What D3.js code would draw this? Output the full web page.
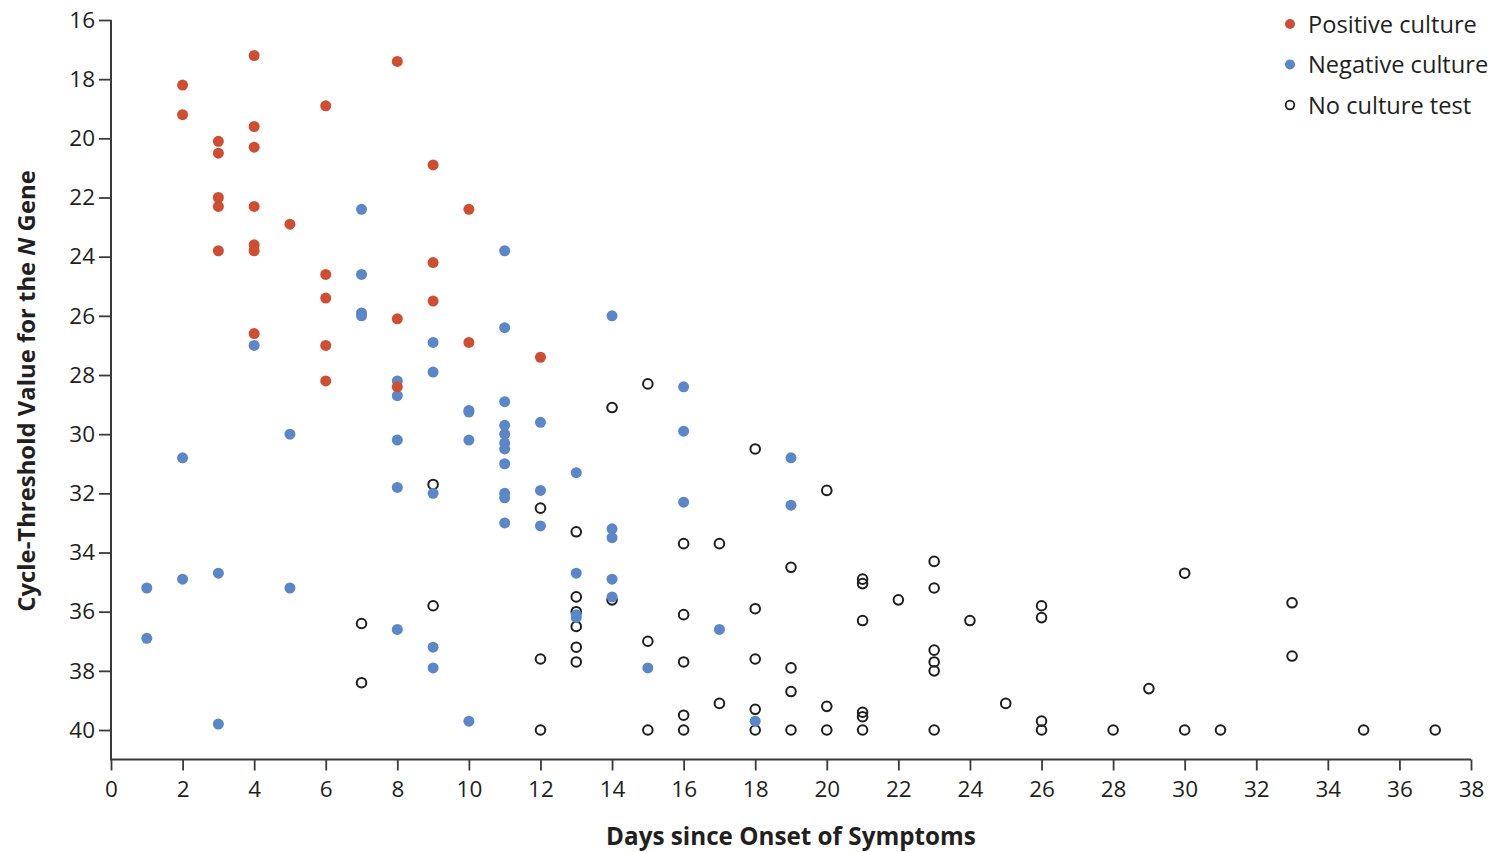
<!DOCTYPE html>
<html>
<head>
<meta charset="utf-8">
<script src="https://cdn.jsdelivr.net/npm/d3@7/dist/d3.min.js"></script>
<style>
  html, body { margin: 0; padding: 0; background: #fff; }
  svg { display: block; }
  text { font-family: "Open Sans", Lato, sans-serif; fill: #231f20; }
</style>
</head>
<body>
<svg id="chart" width="1501" height="852"></svg>
<script>
// ---- Data ----
const seriesNames = ["Positive culture", "Negative culture", "No culture test"];

const positiveDays = [2, 2, 3, 3, 3, 3, 3, 4, 4, 4, 4, 4, 4, 4, 5, 6, 6, 6, 6, 6, 8, 8, 8, 9, 9, 9, 10, 10, 12];
const positiveCt   = [18.2, 19.2, 20.1, 20.5, 22.0, 22.3, 23.8, 17.2, 19.6, 20.3, 22.3, 23.6, 23.8, 26.6, 22.9, 18.9, 24.6, 25.4, 27.0, 28.2, 17.4, 26.1, 28.4, 20.9, 24.2, 25.5, 22.4, 26.9, 27.4];

const negativeDays = [1, 1, 2, 2, 3, 3, 4, 5, 5, 7, 7, 7, 7,
  8, 8, 8, 8, 8, 9, 9, 9, 9, 9, 10, 10, 10, 10,
  11, 11, 11, 11, 11, 11, 11, 11, 11, 11, 11,
  12, 12, 12, 13, 13, 13, 13, 14, 14, 14, 14, 14,
  15, 16, 16, 16, 17, 18, 19, 19];
const negativeCt   = [35.2, 36.9, 30.8, 34.9, 34.7, 39.8, 27.0, 30.0, 35.2, 22.4, 24.6, 25.9, 26.0,
  28.2, 28.7, 30.2, 31.8, 36.6, 26.9, 27.9, 32.0, 37.2, 37.9, 29.2, 29.25, 30.2, 39.7,
  23.8, 26.4, 28.9, 29.7, 30.0, 30.3, 30.5, 31.0, 32.0, 32.15, 33.0,
  29.6, 31.9, 33.1, 31.3, 34.7, 36.1, 36.2, 26.0, 33.2, 33.5, 34.9, 35.5,
  37.9, 28.4, 29.9, 32.3, 36.6, 39.7, 30.8, 32.4];

const noTestDays = [7, 7, 9, 9, 12, 12, 12, 13, 13, 13, 13, 13, 13,
  14, 14, 15, 15, 15, 16, 16, 16, 16, 16, 17, 17,
  18, 18, 18, 18, 18, 19, 19, 19, 19, 20, 20, 20,
  21, 21, 21, 21, 21, 21, 22, 23, 23, 23, 23, 23, 23, 24, 25,
  26, 26, 26, 26, 28, 29, 30, 30, 31, 33, 33, 35, 37];
const noTestCt   = [36.4, 38.4, 31.7, 35.8, 32.5, 37.6, 40.0, 33.3, 35.5, 36.0, 36.5, 37.2, 37.7,
  29.1, 35.6, 28.3, 37.0, 40.0, 33.7, 36.1, 37.7, 39.5, 40.0, 33.7, 39.1,
  30.5, 35.9, 37.6, 39.3, 40.0, 34.5, 37.9, 38.7, 40.0, 31.9, 39.2, 40.0,
  34.9, 35.05, 36.3, 39.4, 39.55, 40.0, 35.6, 34.3, 35.2, 37.3, 37.7, 38.0, 40.0, 36.3, 39.1,
  35.8, 36.2, 39.7, 40.0, 40.0, 38.6, 34.7, 40.0, 40.0, 35.7, 37.5, 40.0, 40.0];

const xTicks = d3.range(0, 39, 2);
const yTicks = d3.range(16, 41, 2);

// ---- Layout ----
const svg = d3.select("#chart");
const x = d3.scaleLinear().domain([0, 38]).range([111, 1471]);
const y = d3.scaleLinear().domain([16, 41]).range([20, 759.6]);
const axisBottomY = 759.5;
const axisColor = "#3a3a3a";

function fitText(sel, target) {
  const len = sel.node().getComputedTextLength();
  const fs = parseFloat(sel.attr("font-size"));
  sel.attr("font-size", fs * target / len);
}

// Axes
const gx = svg.append("g")
  .attr("transform", `translate(0,${axisBottomY})`)
  .call(d3.axisBottom(x).tickValues(xTicks).tickSize(11).tickSizeOuter(0).tickPadding(11));
const gy = svg.append("g")
  .attr("transform", `translate(${x(0)},0)`)
  .call(d3.axisLeft(y).tickValues(yTicks).tickSize(12).tickSizeOuter(0).tickPadding(4));

[gx, gy].forEach(g => {
  g.select(".domain").attr("stroke", axisColor).attr("stroke-width", 2);
  g.selectAll(".tick line").attr("stroke", axisColor).attr("stroke-width", 1.8);
  g.selectAll(".tick text")
    .attr("font-family", "'Open Sans', Lato, sans-serif")
    .attr("font-size", 22.5)
    .attr("fill", "#231f20");
});
gy.select(".domain").attr("d", `M0,${y(16)}V${axisBottomY}`);
gx.select(".domain").attr("d", `M${x(0)-1},0H${x(38)}`);

// Axis titles
const xTitle = svg.append("text")
  .attr("x", 791).attr("y", 845)
  .attr("text-anchor", "middle")
  .attr("font-size", 24).attr("font-weight", "bold")
  .text("Days since Onset of Symptoms");
fitText(xTitle, 370);

const yTitle = svg.append("text")
  .attr("transform", `translate(35,391) rotate(-90)`)
  .attr("text-anchor", "middle")
  .attr("font-size", 24).attr("font-weight", "bold");
yTitle.append("tspan").text("Cycle-Threshold Value for the ");
yTitle.append("tspan").attr("font-style", "italic").text("N");
yTitle.append("tspan").text(" Gene");
fitText(yTitle, 442);

// ---- Marks ----
const red = "#cf4e32", blue = "#5b86c8", ink = "#1e1e1e";
const r = 5.5;

svg.append("g").selectAll("circle")
  .data(d3.zip(noTestDays, noTestCt))
  .join("circle")
  .attr("cx", d => x(d[0])).attr("cy", d => y(d[1]))
  .attr("r", 4.8)
  .attr("fill", "none")
  .attr("stroke", ink).attr("stroke-width", 2);

svg.append("g").selectAll("circle")
  .data(d3.zip(negativeDays, negativeCt))
  .join("circle")
  .attr("cx", d => x(d[0])).attr("cy", d => y(d[1]))
  .attr("r", r).attr("fill", blue);

svg.append("g").selectAll("circle")
  .data(d3.zip(positiveDays, positiveCt))
  .join("circle")
  .attr("cx", d => x(d[0])).attr("cy", d => y(d[1]))
  .attr("r", r).attr("fill", red);

// ---- Legend ----
const legend = svg.append("g");
const legendItems = [
  { name: seriesNames[0], fill: red, stroke: "none" },
  { name: seriesNames[1], fill: blue, stroke: "none" },
  { name: seriesNames[2], fill: "none", stroke: ink }
];
legendItems.forEach((d, i) => {
  const cy = 24 + i * 40.5;
  legend.append("circle")
    .attr("cx", 1290).attr("cy", cy)
    .attr("r", d.stroke === "none" ? 5 : 4.3)
    .attr("fill", d.fill).attr("stroke", d.stroke).attr("stroke-width", 1.8);
  const t = legend.append("text")
    .attr("x", 1308).attr("y", cy)
    .attr("dy", "0.36em")
    .attr("font-size", 24)
    .text(d.name);
  if (i === 0) fitText(t, 169);
  else t.attr("font-size", legend.select("text").attr("font-size"));
});
</script>
</body>
</html>
